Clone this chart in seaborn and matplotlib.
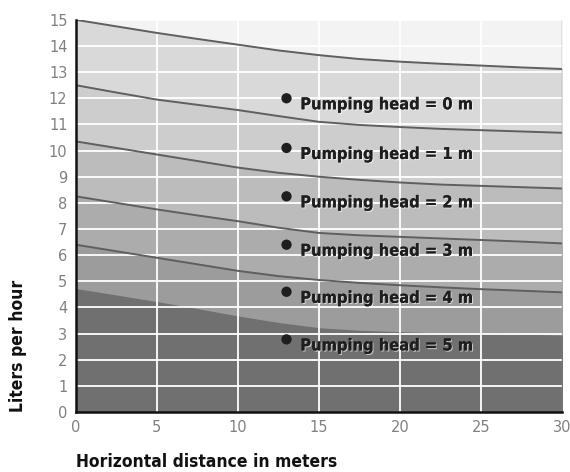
import matplotlib
matplotlib.use("Agg")
import matplotlib.pyplot as plt
import matplotlib.patheffects as pe
import seaborn as sns
import pandas as pd
import numpy as np

# data
distance = [0, 2.5, 5, 7.5, 10, 12.5, 15, 17.5, 20, 22.5, 25, 27.5, 30]
head_0 = [15.0, 14.75, 14.5, 14.27, 14.05, 13.83, 13.65, 13.5, 13.4, 13.32, 13.25, 13.18, 13.12]
head_1 = [12.5, 12.22, 11.95, 11.75, 11.55, 11.32, 11.1, 10.98, 10.9, 10.83, 10.78, 10.73, 10.68]
head_2 = [10.35, 10.1, 9.85, 9.6, 9.35, 9.15, 9.0, 8.88, 8.78, 8.7, 8.65, 8.6, 8.55]
head_3 = [8.25, 8.0, 7.75, 7.52, 7.3, 7.05, 6.85, 6.76, 6.7, 6.64, 6.58, 6.52, 6.45]
head_4 = [6.4, 6.15, 5.9, 5.65, 5.4, 5.2, 5.05, 4.94, 4.85, 4.77, 4.7, 4.64, 4.58]
head_5 = [4.7, 4.45, 4.2, 3.93, 3.65, 3.4, 3.2, 3.1, 3.05, 3.0, 2.98, 2.95, 2.92]
heads = ["0", "1", "2", "3", "4", "5"]
dot_x = 13
dot_y = [12.0, 10.1, 8.25, 6.4, 4.6, 2.78]

curves = [head_0, head_1, head_2, head_3, head_4, head_5]
fills = ["#f3f3f3", "#d9d9d9", "#cdcdcd", "#bcbcbc", "#acacac", "#9c9c9c", "#707070"]

df = pd.DataFrame({
    "distance": distance * len(heads),
    "flow": sum(curves, []),
    "head": np.repeat(heads, len(distance)),
})
dots = pd.DataFrame({"x": [dot_x] * len(dot_y), "y": dot_y})

sns.set_style("white")
plt.rcParams["font.family"] = ["DejaVu Sans"]

fig = plt.figure(figsize=(5.7, 4.72), dpi=100)
ax = fig.add_axes([0.133, 0.127, 0.853, 0.831])

# shaded bands between the curves
xs = np.array(distance)
ax.fill_between(xs, head_0, 15, color=fills[0], zorder=0)
for i in range(len(curves) - 1):
    ax.fill_between(xs, curves[i + 1], curves[i], color=fills[i + 1], zorder=0)
ax.fill_between(xs, 0, head_5, color=fills[-1], zorder=0)

# grid in white
for yy in range(1, 16):
    ax.axhline(yy, color="white", lw=1.3, zorder=1)
for xx in [5, 10, 15, 20, 25]:
    ax.axvline(xx, color="white", lw=1.3, zorder=1)

sns.lineplot(data=df[df["head"] != "5"], x="distance", y="flow", units="head",
             estimator=None, color="#5f5f5f", lw=1.4, ax=ax, zorder=2)

sns.scatterplot(data=dots, x="x", y="y", color="#1e1e1e", s=55, edgecolor="none", ax=ax, zorder=4)

for h, yv in zip(heads, dot_y):
    ax.text(dot_x + 0.85, yv - 0.25, f"Pumping head = {h} m", fontsize=11.8, fontweight="bold",
            fontstretch="condensed", color="#1e1e1e", va="center", ha="left", zorder=5,
            path_effects=[pe.withSimplePatchShadow(offset=(0.8, -0.8), shadow_rgbFace="white", alpha=0.6),
                          pe.Normal()])

ax.set_xlim(0, 30)
ax.set_ylim(0, 15)
ax.set_xticks(range(0, 31, 5))
ax.set_yticks(range(0, 16))
ax.tick_params(axis="both", colors="#808080", labelsize=10.5, length=0, pad=6)

for s in ["top", "right"]:
    ax.spines[s].set_visible(False)
ax.spines["left"].set_color("#111111")
ax.spines["bottom"].set_color("#111111")
ax.spines["left"].set_linewidth(1.8)
ax.spines["bottom"].set_linewidth(1.8)
ax.spines["left"].set_zorder(6)
ax.spines["bottom"].set_zorder(6)
ax.axvline(30, color="#9a9a9a", lw=1, zorder=3)

ax.set_xlabel("")
ax.set_ylabel("Liters per hour", fontsize=12.5, fontweight="bold", fontstretch="condensed",
              color="#111111", loc="bottom", labelpad=16)
fig.text(0.133, 0.021, "Horizontal distance in meters", fontsize=12.5, fontweight="bold",
         fontstretch="condensed", color="#111111", ha="left", va="center")

fig.savefig("out.png", dpi=100)
